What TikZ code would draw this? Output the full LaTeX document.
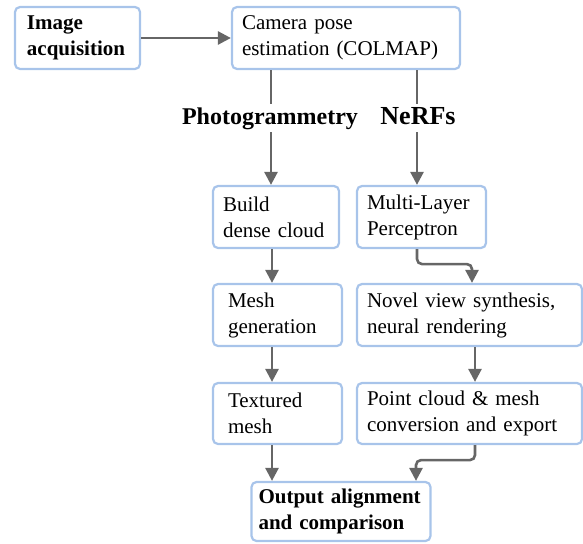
\documentclass[tikz,border=0pt]{standalone}
\usepackage{fontspec}
\setmainfont{Liberation Serif}
\usetikzlibrary{arrows.meta}
\definecolor{boxblue}{RGB}{168,196,234}
\definecolor{arrgray}{RGB}{102,102,102}
\tikzset{
  box/.style={draw=boxblue, line width=2.2pt, rounded corners=5pt, rectangle,
    align=left, inner ysep=0pt, anchor=center,
    font=\fontsize{21}{26}\selectfont, text=black},
  arr/.style={draw=arrgray, line width=2.6pt, -{Triangle[width=13pt,length=13pt]}},
  plain/.style={draw=arrgray, line width=2.6pt},
  lbl/.style={fill=white, inner xsep=2pt, inner ysep=3pt, text height=17pt, text depth=5pt}
}
\begin{document}
\begin{tikzpicture}[x=1pt,y=-1pt]
\useasboundingbox (0,0) rectangle (583,543);
% boxes
\node[box, font=\bfseries\fontsize{21}{26}\selectfont, minimum height=62pt, inner xsep=12pt, text width=101pt] (acq) at (77.5,38) {Image\\acquisition};
\node[box, minimum height=62pt, inner xsep=10pt, text width=208pt] (cam) at (346,38) {Camera pose\\estimation (COLMAP)};
\node[box, minimum height=62pt, inner xsep=10pt, text width=106pt] (build) at (276,217) {Build\\dense cloud};
\node[box, minimum height=62pt, inner xsep=10pt, text width=109pt] (mlp) at (421.5,217) {Multi-Layer\\Perceptron};
\node[box, minimum height=62pt, inner xsep=15pt, text width=99pt] (mesh) at (277.5,315) {Mesh\\generation};
\node[box, minimum height=62pt, inner xsep=10pt, text width=205pt] (novel) at (469.5,315) {Novel view synthesis,\\neural rendering};
\node[box, minimum height=61pt, inner xsep=15pt, text width=99pt] (tex) at (277.5,413.5) {Textured\\mesh};
\node[box, minimum height=61pt, inner xsep=10pt, text width=205pt] (point) at (469.5,413.5) {Point cloud \& mesh\\conversion and export};
\node[box, font=\bfseries\fontsize{21}{26}\selectfont, minimum height=59pt, inner xsep=7pt, text width=165pt] (out) at (341,511.5) {Output alignment\\and comparison};
% labels
\node[lbl, font=\bfseries\fontsize{24}{28}\selectfont] (photo) at (270,118) {Photogrammetry};
\node[lbl, font=\bfseries\fontsize{26}{30}\selectfont] (nerf) at (418,118) {NeRFs};
\coordinate (px) at (271,0);
\coordinate (nx) at (417,0);
\coordinate (lx) at (272,0);
% connectors
\draw[arr] (acq.east) -- (cam.west);
\draw[plain] (px |- cam.south) -- (px |- photo.north);
\draw[arr] (px |- photo.south) -- (px |- build.north);
\draw[plain] (nx |- cam.south) -- (nx |- nerf.north);
\draw[arr] (nx |- nerf.south) -- (nx |- mlp.north);
\draw[arr] (lx |- build.south) -- (lx |- mesh.north);
\draw[arr] (lx |- mesh.south) -- (lx |- tex.north);
\draw[arr, rounded corners=5pt] ([xshift=-4.5pt]mlp.south) -- ++(0,15) -| ([xshift=2.5pt]novel.north);
\draw[arr] ([xshift=5.5pt]novel.south) -- ([xshift=5.5pt]novel.south |- point.north);
\draw[arr] (lx |- tex.south) -- (lx |- out.north);
\draw[arr, rounded corners=5pt] ([xshift=5.5pt]point.south) -- ++(0,15) -| ([xshift=75pt]out.north);
\end{tikzpicture}
\end{document}
